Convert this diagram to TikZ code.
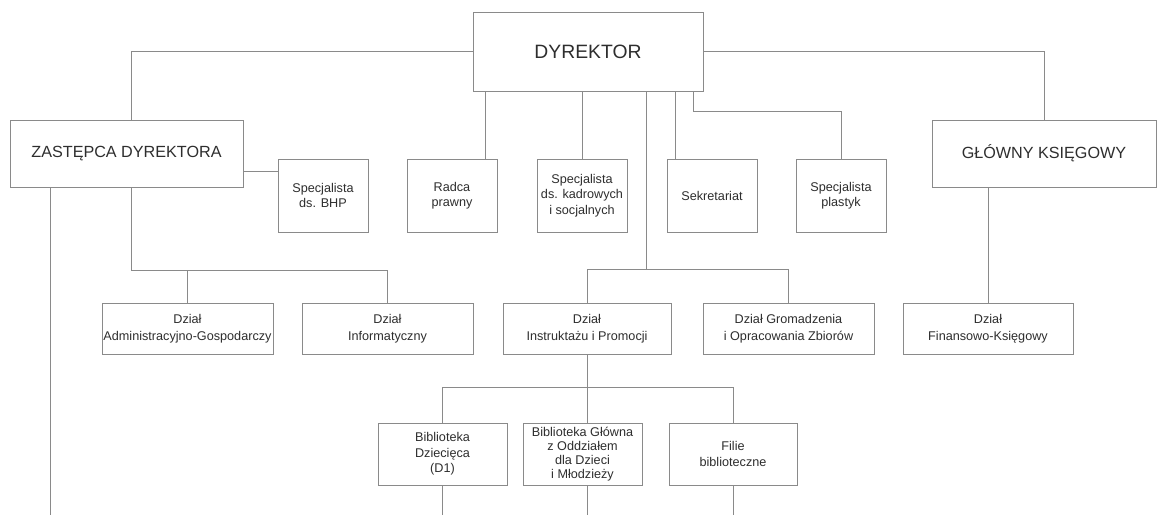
\documentclass[tikz,border=0pt]{standalone}
\usepackage{fontspec}
\setmainfont{Liberation Sans}
\usepackage{xcolor}
\usepackage{tikz}

\definecolor{linegray}{HTML}{8A8A8A}
\definecolor{textgray}{HTML}{2E2E2E}

\begin{document}
\begin{tikzpicture}[x=0.02cm, y=-0.02cm,
    unit/.style={draw=linegray, line width=0.5pt, fill=white, inner sep=0pt,
      align=center, text=textgray, font=\fontsize{7.2}{8.8}\selectfont},
    head/.style={unit, minimum height=1.34cm, font=\fontsize{9.2}{11}\selectfont},
    staff/.style={unit, minimum width=1.8cm, minimum height=1.46cm},
    dept/.style={unit, minimum height=1.02cm, font=\fontsize{7.2}{9.4}\selectfont},
    lib/.style={unit, minimum height=1.24cm},
    link/.style={draw=linegray, line width=0.5pt}]
    \useasboundingbox (0,0) rectangle (1157,515);

    % top level
    \node[unit, minimum width=4.6cm, minimum height=1.58cm,
      font=\fontsize{11}{13}\selectfont] (dyr) at (588,51.5) {DYREKTOR};
    \node[head, minimum width=4.66cm] (zast) at (126.5,153.5) {ZASTĘPCA DYREKTORA};
    \node[head, minimum width=4.48cm] (glow) at (1044,153.5) {GŁÓWNY KSIĘGOWY};

    % posts under the director
    \node[staff] (bhp) at (323,195.5) {Specjalista\\ds. BHP};
    \node[staff] (radca) at (452,195.5) {Radca\\prawny};
    \node[staff] (kadr) at (582,195.5) {Specjalista\\ds. kadrowych\\i socjalnych};
    \node[staff] (sekr) at (712,195.5) {Sekretariat};
    \node[staff] (plast) at (841,195.5) {Specjalista\\plastyk};

    % departments
    \node[dept, minimum width=3.42cm] (admin) at (187.5,328.5) {Dział\\Administracyjno-Gospodarczy};
    \node[dept, minimum width=3.42cm] (inf) at (387.5,328.5) {Dział\\Informatyczny};
    \node[dept, minimum width=3.36cm] (instr) at (587,328.5) {Dział\\Instruktażu i Promocji};
    \node[dept, minimum width=3.42cm] (grom) at (788.5,328.5) {Dział Gromadzenia\\i Opracowania Zbiorów};
    \node[dept, minimum width=3.4cm] (fin) at (988,328.5) {Dział\\Finansowo-Księgowy};

    % libraries
    \node[lib, minimum width=2.58cm] (dziec) at (442.5,454) {Biblioteka\\Dziecięca\\(D1)};
    \node[lib, minimum width=2.38cm, font=\fontsize{7.2}{7.9}\selectfont] (bglow) at (582.5,454)
      {Biblioteka Główna\\z Oddziałem\\dla Dzieci\\i Młodzieży};
    \node[lib, minimum width=2.56cm] (filie) at (733,454) {Filie\\biblioteczne};

    % drop points and rows
    \coordinate (zx) at (131,0);
    \coordinate (left) at (50,0);
    \coordinate (tR) at (485,0);
    \coordinate (tI) at (646,0);
    \coordinate (tS) at (675,0);
    \coordinate (tP) at (693,0);
    \coordinate (bot) at (0,515);

    % connectors
    \draw[link] (dyr.west) -| (zast.north -| zx);
    \draw[link] (dyr.east) -| (glow.north);
    \draw[link] ([yshift=-0.35cm]zast.east) -- ([yshift=-0.35cm]zast.east -| bhp.west);
    \draw[link] (dyr.south -| tR) -- (radca.north -| tR);
    \draw[link] (dyr.south -| kadr.north) -- (kadr.north);
    \draw[link] (dyr.south -| tS) -- (sekr.north -| tS);
    \draw[link] (dyr.south -| tP) |- ++(0,20) -| (plast.north);
    \draw[link] (dyr.south -| tI) -- ++(0,179);
    \draw[link] (instr.north) -- ++(0,-33) -| (grom.north);
    \draw[link] (zast.south -| zx) |- ++(0,83) -| (inf.north);
    \draw[link] (admin.north) -- ++(0,-33);
    \draw[link] (zast.south -| left) -- (bot -| left);
    \draw[link] (fin.north) -- (fin.north |- glow.south);
    \draw[link] (instr.south) -- (instr.south |- bglow.north);
    \draw[link] (dziec.north) -- ++(0,-35) -| (filie.north);
    \draw[link] (dziec.south) -- (bot -| dziec.south);
    \draw[link] (instr.south |- bglow.south) -- (bot -| instr.south);
    \draw[link] (filie.south) -- (bot -| filie.south);
\end{tikzpicture}
\end{document}
